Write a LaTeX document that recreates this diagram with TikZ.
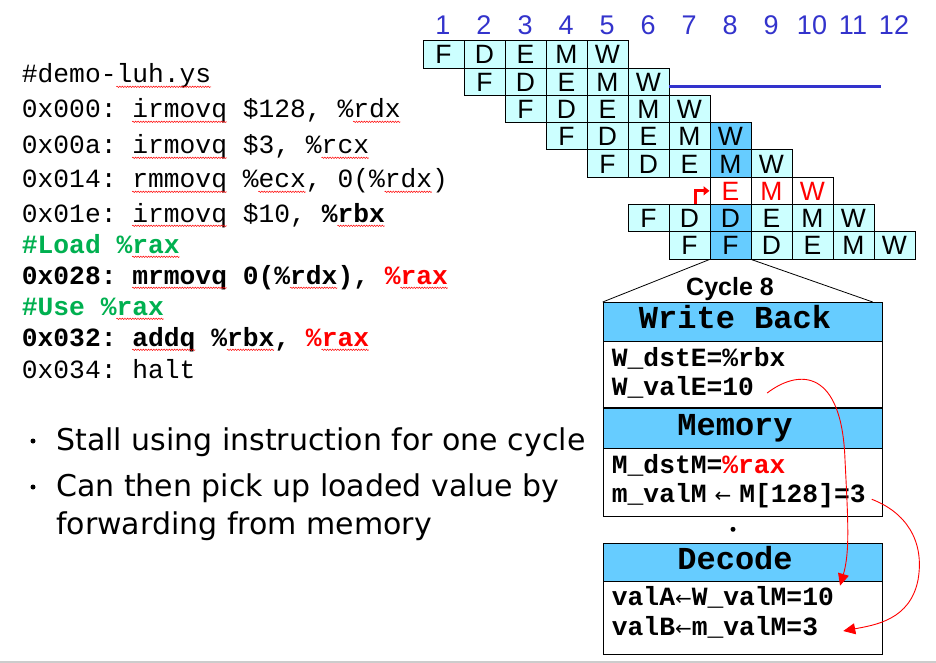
\documentclass[tikz,border=0pt]{standalone}
\usepackage{fontspec}
\usetikzlibrary{arrows.meta,calc,decorations.pathmorphing}
\newfontfamily\arialf{Liberation Sans}
\newfontfamily\courf{Liberation Mono}
\newfontfamily\comicf{DejaVu Sans}
\newfontfamily\arrowf{DejaVu Sans}
\definecolor{cellc}{HTML}{CCFFFF}
\definecolor{hlc}{HTML}{66CCFF}
\definecolor{numc}{HTML}{3333CC}
\definecolor{grn}{HTML}{00B050}
\newcommand\fs[1]{\fontsize{#1}{#1}\selectfont}
\newcommand\larr{{\arrowf\mdseries\fs{20}←}}
% pipeline grid geometry
\def\gx{422.5}
\def\gy{40.3}
\def\cw{41}
\def\rh{27.3}
% monospace character advance for the code listing
\def\chw{15.78}
\begin{document}
\begin{tikzpicture}[x=1pt,y=-1pt,
  cell/.style={draw=black, line width=0.8pt, fill=cellc, minimum width=41pt,
    minimum height=27.3pt, inner sep=0pt, anchor=north west,
    font=\arialf\fs{26.5}, text height=19pt, text depth=0pt},
  numst/.style={font=\arialf\fs{27}, text=numc, inner sep=0pt,
    text height=19.3pt, text depth=0pt},
  hdr/.style={draw=black, line width=1pt, fill=hlc, minimum width=279pt,
    anchor=north west, inner sep=0pt},
  body/.style={draw=black, line width=1pt, fill=white, minimum width=279pt,
    anchor=north west, inner sep=0pt},
  hdrtext/.style={anchor=base, inner sep=0pt, font=\courf\bfseries\fs{32}},
  bodytext/.style={anchor=base west, inner sep=0pt, font=\courf\bfseries\fs{26.3}\frenchspacing},
  code/.style={anchor=base west, inner sep=0pt, font=\courf\fs{26.3}\frenchspacing},
  boldcode/.style={code, font=\courf\bfseries\fs{26.3}\frenchspacing},
  wavy/.style={red, line width=0.5pt, decorate,
    decoration={snake, amplitude=0.7pt, segment length=2.6pt}},
  fwd/.style={red, line width=0.9pt, -{Triangle[length=12pt,width=11pt]}},
  stallarrow/.style={red, line width=3pt, -{Triangle[length=6pt,width=9pt]}},
  btext/.style={anchor=base west, inner sep=0pt, font=\comicf\fs{30}},
  bul/.style={circle, fill=black, inner sep=0pt, minimum size=5pt}
]
\fill[white] (0,0) rectangle (936,663);
\useasboundingbox (0,0) rectangle (936,663);

% ---------- cycle numbers ----------
\foreach \k in {1,...,12}
  \node[numst] (n-\k) at ({\gx+(\k-0.5)*\cw},25) {\k};

% ---------- pipeline rows ----------
\foreach \r/\s/\L in {1/1/{F,D,E,M,W}, 2/2/{F,D,E,M,W}, 3/3/{F,D,E,M,W},
                      4/4/{F,D,E,M,W}, 5/5/{F,D,E,M,W},
                      7/6/{F,D,D,E,M,W}, 8/7/{F,F,D,E,M,W}}{
  \foreach \l [count=\i from 0] in \L {
    \pgfmathtruncatemacro\c{\s+\i}
    \ifnum\c=8 \def\cf{hlc}\else\def\cf{cellc}\fi
    \node[cell, fill=\cf] (c-\r-\c) at ({\gx+(\c-1)*\cw},{\gy+(\r-1)*\rh}) {\l};
  }
}
% bubble row: stalled stages
\foreach \l [count=\i from 0] in {E,M,W} {
  \pgfmathtruncatemacro\c{8+\i}
  \node[cell, fill=white, text=red] (c-6-\c) at ({\gx+(\c-1)*\cw},{\gy+5*\rh}) {\l};
}
\draw[stallarrow] ($(c-7-7.north)+(6,0)$) |- (c-6-8.west);

% horizontal bar after the second instruction
\coordinate (bl-end) at (881,87);
\draw[numc, line width=3pt] (c-2-6.east |- bl-end) -- (bl-end);

% ---------- code listing ----------
\node[code] (l1) at (21.7,83) {\#demo-luh.ys};
\node[code] (l2) at (21.7,118) {0x000: irmovq \$128, \%rdx};
\node[code] (l3) at (21.7,154) {0x00a: irmovq \$3, \%rcx};
\node[code] (l4) at (21.7,188) {0x014: rmmovq \%ecx, 0(\%rdx)};
\node[code] (l5) at (21.7,222) {0x01e: irmovq \$10, {\bfseries\%rbx}};
\node[boldcode, text=grn] (l6) at (21.7,253) {\#Load \%rax};
\node[boldcode] (l7) at (21.7,284) {0x028: mrmovq 0(\%rdx), \textcolor{red}{\%rax}};
\node[boldcode, text=grn] (l8) at (21.7,315) {\#Use \%rax};
\node[boldcode] (l9) at (21.7,346) {0x032: addq \%rbx, \textcolor{red}{\%rax}};
\node[code] (l10) at (21.7,378) {0x034: halt};

% spell-check squiggles under flagged words
\foreach \n/\a/\b in {l1/6/11, l2/7/12, l2/21/23, l3/7/12, l3/19/21,
                      l4/7/12, l4/15/17, l4/23/25, l5/7/12, l5/20/22,
                      l6/7/9, l7/7/12, l7/17/19, l7/24/26, l8/6/8,
                      l9/7/10, l9/13/15, l9/19/21}
  \draw[wavy] ($(\n.base west)+({\a*\chw},3.8)$) -- ($(\n.base west)+({(\b+1)*\chw},3.8)$);

% ---------- bullets ----------
\node[bul] (b1) at (33,441) {};
\node[btext] (t1) at (56,450) {Stall using instruction for one cycle};
\node[bul] (b2) at (33,487) {};
\node[btext] (t2) at (56,496) {Can then pick up loaded value by};
\node[btext] (t3) at (56,534) {forwarding from memory};

% ---------- cycle 8 detail ----------
\node[hdr, minimum height=39pt] (wbh) at (602.7,302) {};
\node[body, minimum height=67pt] (wbb) at (602.7,341) {};
\node[hdr, minimum height=40pt] (memh) at (602.7,408) {};
\node[body, minimum height=68pt] (memb) at (602.7,448) {};
\node[hdr, minimum height=38.6pt] (dech) at (602.7,542.7) {};
\node[body, minimum height=72.4pt] (decb) at (602.7,581.3) {};
\draw[line width=2.5pt] (memh.north west) -- (memh.north east);

\node[font=\arialf\bfseries\fs{25}, inner sep=0pt, anchor=base] (cyc) at (730,295) {Cycle 8};
\draw[line width=0.8pt] (c-8-8.south west) -- (wbh.north west);
\draw[line width=0.8pt] (c-8-8.south east) -- ($(wbh.north east)+(-10,0)$);

\node[hdrtext] (wbt) at (735,328.3) {Write Back};
\node[hdrtext] (memt) at (735,435.7) {Memory};
\node[hdrtext] (dect) at (735,569.3) {Decode};

\node[bodytext] (wbd) at (611.7,366.7) {W\_dstE=\%rbx};
\node[bodytext] (wbv) at (611.7,395) {W\_valE=10};
\node[bodytext] (mmd) at (611.7,473.3) {M\_dstM=\textcolor{red}{\%rax}};
\node[bodytext] (mmv) at (611.7,502.3) {m\_valM\hspace{8pt}\larr\hspace{8pt}M[128]=3};
\node[circle, fill=black, inner sep=0pt, minimum size=5pt] (gap) at (733,529.3) {};
\node[bodytext] (dA) at (611.7,605.7) {valA\larr W\_valM=10};
\node[bodytext] (dB) at (611.7,635) {valB\larr m\_valM=3};

% forwarding paths
\draw[fwd] ($(wbv.base east)+(13,-2)$) .. controls (800,368) and (842,370) .. (845,460)
  .. controls (848,520) and (850,552) .. ($(dA.base east)+(6,-20)$);
\draw[fwd] ($(mmv.base east)+(6,-3)$) .. controls (905,512) and (925,540) .. (918,580)
  .. controls (910,620) and (875,625) .. ($(dB.base east)+(25,-4)$);

% ---------- bottom rule ----------
\draw[black!20, line width=1.5pt] (0,661.8) -- (936,661.8);
\end{tikzpicture}
\end{document}
